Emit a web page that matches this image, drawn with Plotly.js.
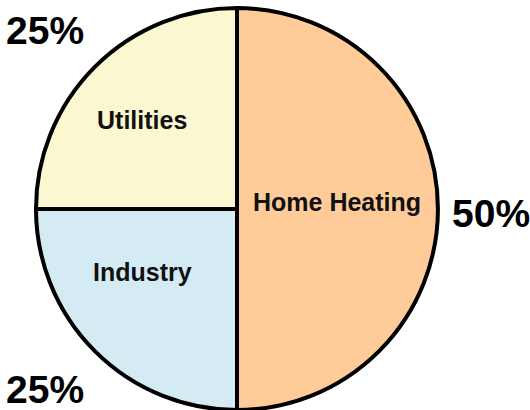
<!DOCTYPE html>
<html>
<head>
<meta charset="utf-8">
<script src="https://cdn.plot.ly/plotly-3.0.1.min.js"></script>
<style>
  html, body { margin: 0; padding: 0; background: #fff; }
  #chart { width: 530px; height: 410px; }
</style>
</head>
<body>
<div id="chart"></div>
<script>
// slices, in drawing order (counterclockwise from 12 o'clock)
let sources = ['Utilities', 'Industry', 'Home Heating'];
let shares = [25, 25, 50];
let sliceColors = ['#FBF7D0', '#D5EBF3', '#FECB99'];

let total = shares.reduce((a, b) => a + b, 0);

// the pie itself
let trace1 = {
    type: 'pie',
    labels: sources,
    values: shares,
    sort: false,
    direction: 'counterclockwise',
    rotation: -90,
    textinfo: 'none',
    hoverinfo: 'label+percent',
    marker: {
        colors: sliceColors,
        line: { color: '#000', width: 4 }
    },
    domain: { x: [36 / 530, 438 / 530], y: [0, 402 / 410] },
    showlegend: false
};

// where each slice's name and percentage go on the page
let namePos = [[142, 120], [142, 272], [337, 202]];
let pctPos = [[45, 31], [45, 389], [491, 213]];

let px = (x) => x / 530;
let py = (y) => 1 - y / 410;

let annotations = [];
sources.forEach((name, i) => {
    annotations.push({
        text: '<b>' + name + '</b>',
        x: px(namePos[i][0]), y: py(namePos[i][1]),
        xref: 'paper', yref: 'paper',
        xanchor: 'center', yanchor: 'middle',
        showarrow: false,
        font: { family: 'Liberation Sans, Arial, sans-serif', size: 25, color: '#111' }
    });
    annotations.push({
        text: '<b>' + Math.round(shares[i] / total * 100) + '%</b>',
        x: px(pctPos[i][0]), y: py(pctPos[i][1]),
        xref: 'paper', yref: 'paper',
        xanchor: 'center', yanchor: 'middle',
        showarrow: false,
        font: { family: 'Liberation Sans, Arial, sans-serif', size: 39, color: '#000' }
    });
});

let layout = {
    width: 530,
    height: 410,
    margin: { l: 0, r: 0, t: 0, b: 0 },
    paper_bgcolor: '#fff',
    annotations: annotations
};

Plotly.newPlot('chart', [trace1], layout, { displayModeBar: false, staticPlot: true });
</script>
</body>
</html>
